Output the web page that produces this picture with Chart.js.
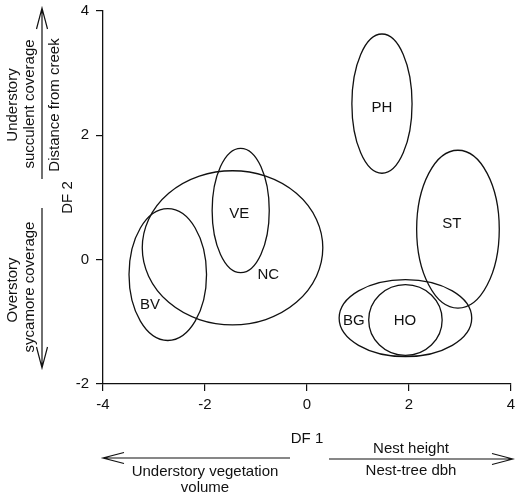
<!DOCTYPE html>
<html>
<head>
<meta charset="utf-8">
<script src="https://cdn.jsdelivr.net/npm/chart.js@4"></script>
<style>
  html, body { margin: 0; padding: 0; background: #fff; }
  #wrap { width: 515px; height: 499px; }
</style>
</head>
<body>
<div id="wrap"><canvas id="dfChart" width="515" height="499"></canvas></div>
<script>
// Kelompok (elips 95%) pada ruang fungsi diskriminan
const groups = ['PH', 'ST', 'VE', 'NC', 'BV', 'BG', 'HO'];
const centerX = [1.47, 2.96, -1.30, -1.46, -2.73, 1.93, 1.93];
const centerY = [2.51, 0.49, 0.79, 0.19, -0.24, -0.94, -0.97];
const radiusX = [0.59, 0.81, 0.56, 1.77, 0.76, 1.30, 0.72];
const radiusY = [1.12, 1.27, 1.00, 1.24, 1.06, 0.62, 0.57];
const labelX = [1.47, 2.84, -1.33, -0.76, -3.08, 0.92, 1.92];
const labelY = [2.44, 0.57, 0.74, -0.25, -0.73, -0.99, -0.98];

const xTicks = [-4, -2, 0, 2, 4];
const yTicks = [-2, 0, 2, 4];

const FONT = '"Liberation Sans", Arial, sans-serif';
const INK = '#111';
const FSIZE = 15;

// Gambar elips + label kelompok lewat skala chart
const ellipsePlugin = {
    id: 'ellipses',
    afterDatasetsDraw(chart) {
        const { ctx, scales: { x, y } } = chart;
        ctx.save();
        ctx.strokeStyle = INK;
        ctx.lineWidth = 1.3;
        groups.forEach((g, i) => {
            const cx = x.getPixelForValue(centerX[i]);
            const cy = y.getPixelForValue(centerY[i]);
            const rx = Math.abs(x.getPixelForValue(centerX[i] + radiusX[i]) - cx);
            const ry = Math.abs(y.getPixelForValue(centerY[i] + radiusY[i]) - cy);
            ctx.beginPath();
            ctx.ellipse(cx, cy, rx, ry, 0, 0, Math.PI * 2);
            ctx.stroke();
        });
        ctx.fillStyle = INK;
        ctx.font = FSIZE + 'px ' + FONT;
        ctx.textAlign = 'center';
        ctx.textBaseline = 'middle';
        const meta = chart.getDatasetMeta(0);
        meta.data.forEach((pt, i) => {
            ctx.fillText(groups[i], pt.x, pt.y);
        });
        ctx.restore();
    }
};

function arrow(ctx, x1, y1, x2, y2) {
    // garis dari (x1,y1) ke ujung panah (x2,y2), kepala terbuka
    const ang = Math.atan2(y2 - y1, x2 - x1);
    const len = 21, half = 5.5;
    const bx = x2 - Math.cos(ang) * len, by = y2 - Math.sin(ang) * len;
    const nx = -Math.sin(ang) * half, ny = Math.cos(ang) * half;
    ctx.beginPath();
    ctx.moveTo(x1, y1);
    ctx.lineTo(x2, y2);
    ctx.moveTo(bx + nx, by + ny);
    ctx.lineTo(x2, y2);
    ctx.lineTo(bx - nx, by - ny);
    ctx.stroke();
}

function vText(ctx, text, x, y) {
    ctx.save();
    ctx.translate(x, y);
    ctx.rotate(-Math.PI / 2);
    ctx.fillText(text, 0, 0);
    ctx.restore();
}

// Anotasi arah sumbu (panah + keterangan variabel)
const annotationPlugin = {
    id: 'axisNotes',
    afterDraw(chart) {
        const { ctx, chartArea: a } = chart;
        ctx.save();
        ctx.strokeStyle = INK;
        ctx.fillStyle = INK;
        ctx.lineWidth = 1.2;
        ctx.font = FSIZE + 'px ' + FONT;
        ctx.textAlign = 'center';
        ctx.textBaseline = 'middle';

        // bawah
        arrow(ctx, 290, 458, a.left, 458);
        arrow(ctx, 329, 459, 513, 459);
        ctx.fillText('Understory vegetation', 205, 472);
        ctx.fillText('volume', 205, 488);
        ctx.fillText('Nest height', 411, 449);
        ctx.fillText('Nest-tree dbh', 411, 471);

        // kiri
        arrow(ctx, 42, 179, 42, 8);
        arrow(ctx, 42, 208, 42, 368);
        vText(ctx, 'Understory', 13, 105);
        vText(ctx, 'succulent coverage', 30, 104);
        vText(ctx, 'Distance from creek', 55, 105);
        vText(ctx, 'Overstory', 13, 290);
        vText(ctx, 'sycamore coverage', 30, 287);
        ctx.restore();
    }
};

const tickFont = { family: FONT, size: FSIZE };

new Chart(document.getElementById('dfChart'), {
    type: 'scatter',
    data: {
        datasets: [{
            label: 'Kelompok',
            data: groups.map((g, i) => ({ x: labelX[i], y: labelY[i] })),
            pointRadius: 0,
            pointHoverRadius: 0
        }]
    },
    options: {
        responsive: false,
        animation: false,
        devicePixelRatio: 1,
        layout: { padding: { top: 11, right: 4, bottom: 51, left: 0 } },
        plugins: {
            legend: { display: false },
            tooltip: { enabled: false }
        },
        scales: {
            x: {
                type: 'linear',
                min: -4, max: 4,
                afterBuildTicks: s => { s.ticks = xTicks.map(v => ({ value: v })); },
                afterFit: s => { s.height = 64; s.paddingLeft = 0; s.paddingRight = 0; },
                grid: { drawOnChartArea: false, drawTicks: true, tickLength: 7, color: INK, lineWidth: 1.2 },
                border: { color: INK, width: 1.3 },
                ticks: { color: INK, font: tickFont, padding: 5, maxRotation: 0 },
                title: { display: true, text: 'DF 1', color: INK, font: tickFont, padding: { top: 0, bottom: 0 } }
            },
            y: {
                type: 'linear',
                min: -2, max: 4,
                afterBuildTicks: s => { s.ticks = yTicks.map(v => ({ value: v })); },
                afterFit: s => { s.width = 103; s.paddingTop = 0; s.paddingBottom = 0; },
                grid: { drawOnChartArea: false, drawTicks: true, tickLength: 7, color: INK, lineWidth: 1.2 },
                border: { color: INK, width: 1.3 },
                ticks: { color: INK, font: tickFont, padding: 7 },
                title: { display: true, text: 'DF 2', color: INK, font: tickFont, padding: { top: 59, bottom: 0 } }
            }
        }
    },
    plugins: [ellipsePlugin, annotationPlugin]
});
</script>
</body>
</html>
